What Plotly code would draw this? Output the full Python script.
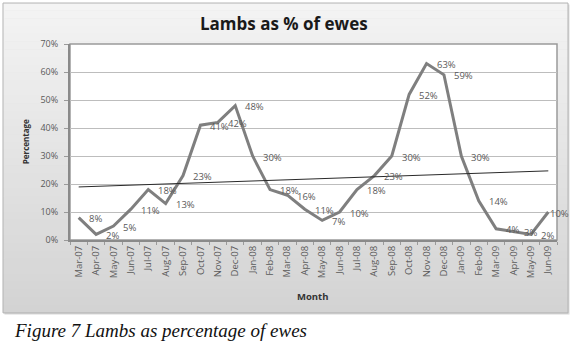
import numpy as np
import plotly.graph_objects as go

months = ["Mar-07","Apr-07","May-07","Jun-07","Jul-07","Aug-07","Sep-07","Oct-07","Nov-07","Dec-07",
          "Jan-08","Feb-08","Mar-08","Apr-08","May-08","Jun-08","Jul-08","Aug-08","Sep-08","Oct-08",
          "Nov-08","Dec-08","Jan-09","Feb-09","Mar-09","Apr-09","May-09","Jun-09"]
pct = [8, 2, 5, 11, 18, 13, 23, 41, 42, 48, 30, 18, 16, 11, 7, 10, 18, 23, 30, 52,
       63, 59, 30, 14, 4, 3, 2, 10]
yticks = [0, 10, 20, 30, 40, 50, 60, 70]

idx = np.arange(len(pct))
slope, intercept = np.polyfit(idx, pct, 1)
trend = slope * idx + intercept

SANS = "Open Sans, Liberation Sans, sans-serif"
fig = go.Figure()

# chart-area gradient background (paper coords)
bx0, bx1, by0, by1 = -0.1376, 1.0226, -0.372, 1.209
shapes = []
shapes.append(dict(type="rect", xref="paper", yref="paper", x0=bx0 + 0.003, x1=bx1 + 0.003,
                   y0=by0 - 0.008, y1=by1 - 0.008, fillcolor="#d8d8d8", line=dict(width=0), layer="below"))
N = 40
top = np.array([0xf4, 0xf4, 0xf4])
bot = np.array([0xd3, 0xd3, 0xd3])
for i in range(N):
    t = (i + 0.5) / N
    c = (top * (1 - t) + bot * t).round().astype(int)
    ya = by1 - (by1 - by0) * i / N
    yb = by1 - (by1 - by0) * (i + 1) / N
    shapes.append(dict(type="rect", xref="paper", yref="paper", x0=bx0, x1=bx1, y0=yb, y1=ya + 0.002,
                       fillcolor="rgb(%d,%d,%d)" % tuple(c), line=dict(width=0), layer="below"))
shapes.append(dict(type="rect", xref="paper", yref="paper", x0=bx0, x1=bx1, y0=by0, y1=by1,
                   fillcolor="rgba(0,0,0,0)", line=dict(color="#b4b4b4", width=1), layer="below"))
# plot area
shapes.append(dict(type="rect", xref="x domain", yref="y domain", x0=0, x1=1, y0=0, y1=1,
                   fillcolor="white", line=dict(color="#9a9a9a", width=1.5), layer="below"))

fig.add_trace(go.Scatter(
    x=months, y=pct, mode="lines",
    line=dict(color="#7f7f7f", width=3),
    hoverinfo="skip", showlegend=False))

fig.add_trace(go.Scatter(
    x=months, y=trend, mode="lines",
    line=dict(color="#2a2a2a", width=1),
    hoverinfo="skip", showlegend=False))

annotations = []
for i, (m, v) in enumerate(zip(months, pct)):
    last = i == len(pct) - 1
    annotations.append(dict(
        x=m, y=v, xref="x", yref="y", text=f"{v}%", showarrow=False,
        xanchor="left", yanchor="middle", xshift=(0 if last else 8), yshift=-1,
        font=dict(family=SANS, size=9.5, color="#5a5a5a")))

tickfont = dict(family=SANS, size=9, color="#5a5a5a")

annotations += [
    dict(text="<b>Lambs as % of ewes</b>", xref="paper", yref="paper", x=0.44, y=1.107,
         showarrow=False, font=dict(family=SANS, size=17, color="#1a1a1a"),
         xanchor="center", yanchor="middle"),
    dict(text="<b>Percentage</b>", xref="paper", yref="paper", x=-0.092, y=0.5,
         showarrow=False, textangle=-90,
         font=dict(family=SANS, size=8, color="#333"),
         xanchor="center", yanchor="middle"),
    dict(text="<b>Month</b>", xref="paper", yref="paper", x=0.498, y=-0.29,
         showarrow=False, font=dict(family=SANS, size=9.5, color="#333"),
         xanchor="center", yanchor="middle"),
    dict(text="<i>Figure 7 Lambs as percentage of ewes</i>", xref="paper", yref="paper",
         x=-0.12, y=-0.46, showarrow=False,
         font=dict(family="Liberation Serif, Times New Roman, serif", size=19, color="#111"),
         xanchor="left", yanchor="middle"),
]

fig.update_layout(
    width=571, height=342,
    margin=dict(l=70, r=14, t=44, b=102),
    paper_bgcolor="white", plot_bgcolor="white",
    shapes=shapes,
    xaxis=dict(type="category", tickangle=-90, tickfont=dict(family=SANS, size=9.5, color="#5a5a5a"),
               showgrid=False, ticks="outside", ticklen=3, tickcolor="#9a9a9a", tickson="boundaries",
               showline=True, linecolor="#8a8a8a", linewidth=2, zeroline=False,
               range=[-0.5, len(months) - 0.5]),
    yaxis=dict(range=[0, 70], tickvals=yticks, ticktext=[f"{v}%" for v in yticks],
               tickfont=tickfont, showgrid=True, gridcolor="#bdbdbd", gridwidth=1,
               ticks="outside", ticklen=4, tickcolor="#9a9a9a", ticklabelstandoff=4,
               showline=True, linecolor="#8a8a8a", linewidth=2, zeroline=False),
    annotations=annotations,
)

fig.write_html("out.html", config={"displayModeBar": False},
               post_script="document.body.style.margin='0px';")
